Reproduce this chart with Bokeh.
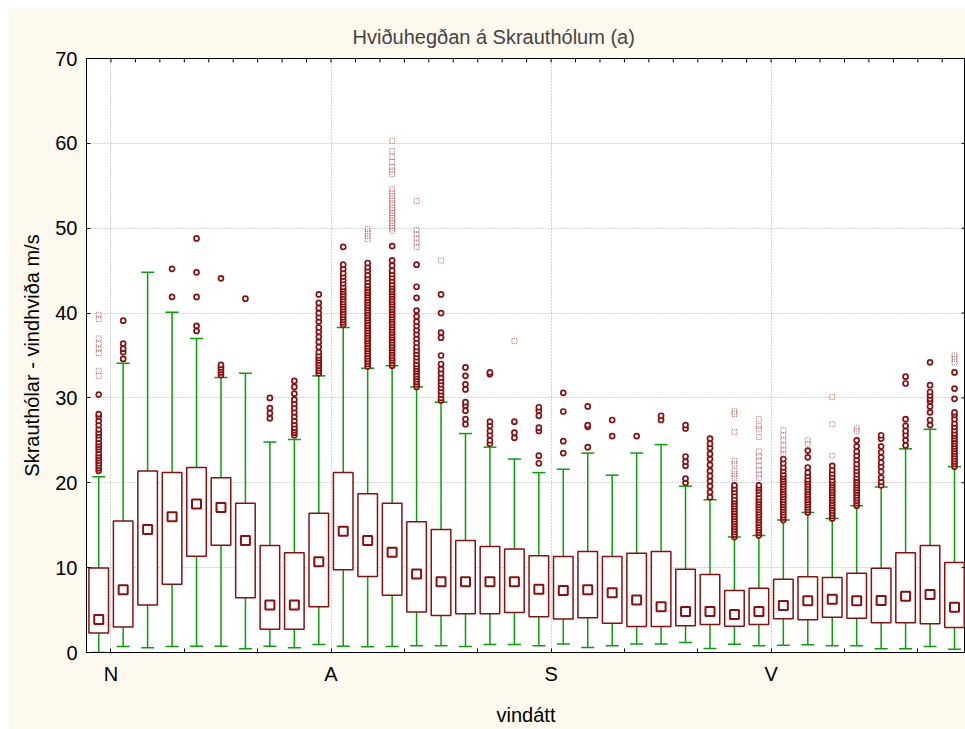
import math
from bokeh.plotting import figure
from bokeh.models import Range1d, FixedTicker, Spacer
from bokeh.layouts import column, row
from bokeh.embed import file_html
from bokeh.resources import INLINE

# ---- data (wind direction bins, degrees) ----
stefna = [-5, 5, 15, 25, 35, 45, 55, 65, 75, 85, 95, 105, 115, 125, 135, 145, 155, 165,
          175, 185, 195, 205, 215, 225, 235, 245, 255, 265, 275, 285, 295, 305, 315, 325, 335, 345]

midgildi = [3.9, 7.4, 14.5, 16.0, 17.5, 17.1, 13.2, 5.6, 5.6, 10.7, 14.3, 13.2, 11.8, 9.25, 8.35, 8.35, 8.35, 8.35,
            7.45, 7.3, 7.4, 7.05, 6.2, 5.4, 4.83, 4.83, 4.48, 4.83, 5.54, 6.09, 6.28, 6.09, 6.13, 6.64, 6.84, 5.34]
nedri_fjordungur = [2.3, 3.0, 5.6, 8.05, 11.35, 12.65, 6.45, 2.75, 2.75, 5.4, 9.74, 8.96, 6.76, 4.77, 4.36, 4.56, 4.56, 4.7,
                    4.2, 3.95, 4.1, 3.46, 3.05, 3.05, 3.14, 3.3, 3.1, 3.3, 3.97, 3.85, 4.16, 4.04, 3.5, 3.5, 3.4, 2.95]
efri_fjordungur = [9.95, 15.5, 21.4, 21.2, 21.8, 20.6, 17.6, 12.6, 11.75, 16.4, 21.2, 18.7, 17.6, 15.4, 14.5, 13.2, 12.5, 12.2,
                   11.4, 11.3, 11.9, 11.3, 11.7, 11.9, 9.8, 9.2, 7.3, 7.58, 8.64, 8.92, 8.84, 9.35, 9.94, 11.75, 12.6, 10.6]
laegst = [0.0, 0.7, 0.55, 0.7, 0.75, 0.75, 0.43, 0.75, 0.55, 0.94, 0.75, 0.67, 0.7, 0.8, 0.8, 0.7, 0.94, 0.94,
          0.8, 1.0, 0.6, 0.8, 1.0, 1.0, 1.18, 0.47, 0.98, 0.79, 0.86, 0.9, 0.79, 0.79, 0.43, 0.43, 0.71, 0.39]
haest = [20.7, 34.1, 44.8, 40.1, 37.0, 32.4, 32.9, 24.8, 25.1, 32.6, 38.3, 33.5, 33.8, 31.3, 29.5, 25.8, 24.2, 22.8,
         21.2, 21.6, 23.5, 20.9, 23.5, 24.5, 19.6, 18.0, 13.6, 13.8, 15.6, 16.5, 15.8, 17.3, 19.5, 24.0, 26.3, 21.9]

utlagar = [
    [21.4, 21.7, 22.0, 22.3, 22.6, 22.9, 23.2, 23.5, 23.9, 24.2, 24.5, 24.8, 25.2, 25.6, 25.9, 26.3, 26.8, 27.3, 27.8, 28.1, 30.4],
    [34.6, 35.4, 35.8, 36.4, 39.1],
    [],
    [41.9, 45.2],
    [37.9, 38.5, 41.9, 44.8, 48.8],
    [32.7, 33.0, 33.3, 33.6, 33.9, 44.1],
    [41.7],
    [27.6, 28.2, 28.8, 30.0],
    [25.6, 25.9, 26.2, 26.5, 26.9, 27.3, 27.8, 28.3, 28.8, 29.3, 29.8, 30.5, 31.3, 32.0],
    [32.9, 33.2, 33.5, 33.8, 34.1, 34.4, 34.7, 35.0, 35.4, 36.0, 36.6, 37.2, 37.8, 38.3, 39.0, 39.5, 40.0, 40.6, 41.2, 42.2],
    [38.6, 38.9, 39.2, 39.5, 39.8, 40.1, 40.4, 40.7, 41.0, 41.3, 41.6, 41.9, 42.2, 42.5, 42.8, 43.1, 43.5, 43.9, 44.3, 44.7,
     45.2, 45.7, 47.8],
    [33.7, 34.0, 34.3, 34.6, 34.9, 35.2, 35.5, 35.8, 36.1, 36.4, 36.7, 37.0, 37.3, 37.6, 37.9, 38.2, 38.5, 38.8, 39.1, 39.4,
     39.7, 40.0, 40.3, 40.6, 40.9, 41.2, 41.5, 41.8, 42.1, 42.4, 42.7, 43.0, 43.3, 43.7, 44.1, 44.5, 45.0, 45.4, 45.9],
    [33.8, 34.1, 34.4, 34.7, 35.0, 35.3, 35.6, 35.9, 36.2, 36.5, 36.8, 37.1, 37.4, 37.7, 38.0, 38.3, 38.6, 38.9, 39.2, 39.5,
     39.8, 40.1, 40.4, 40.7, 41.0, 41.3, 41.6, 41.9, 42.2, 42.5, 42.8, 43.1, 43.4, 43.8, 44.2, 44.6, 45.0, 45.6, 46.2, 47.9],
    [31.3, 31.6, 31.9, 32.2, 32.5, 32.8, 33.1, 33.4, 33.7, 34.0, 34.4, 34.8, 35.2, 35.6, 36.0, 36.5, 37.0, 37.5, 38.0, 38.5,
     39.0, 39.6, 40.3, 41.8, 43.1, 45.7],
    [29.7, 30.0, 30.4, 30.8, 31.2, 31.6, 32.0, 32.4, 32.9, 33.4, 34.0, 35.0, 37.1, 37.7, 40.0, 42.2],
    [26.9, 27.5, 28.5, 29.1, 29.5, 31.0, 31.6, 32.6, 33.6],
    [24.6, 25.0, 25.6, 26.1, 26.7, 27.2, 32.8, 33.0],
    [25.3, 25.9, 27.2],
    [22.3, 23.2, 26.1, 26.5, 27.9, 28.5, 28.9],
    [23.5, 24.9, 28.4, 30.6],
    [24.2, 26.6, 26.8, 29.0],
    [25.5, 27.4],
    [25.5],
    [27.4, 27.9],
    [20.0, 20.5, 22.0, 22.5, 23.1, 26.4, 26.8],
    [18.3, 18.9, 19.6, 20.2, 20.8, 21.4, 22.1, 22.8, 23.4, 24.1, 24.6, 25.2],
    [13.6, 13.9, 14.2, 14.5, 14.8, 15.1, 15.4, 15.7, 16.0, 16.3, 16.6, 16.9, 17.2, 17.5, 17.8, 18.1, 18.5, 18.9, 19.3, 19.7],
    [13.8, 14.1, 14.4, 14.7, 15.0, 15.3, 15.6, 15.9, 16.2, 16.5, 16.8, 17.1, 17.4, 17.7, 18.0, 18.3, 18.7, 19.1, 19.4, 19.7],
    [15.6, 15.9, 16.2, 16.5, 16.8, 17.1, 17.4, 17.7, 18.0, 18.3, 18.6, 18.9, 19.2, 19.5, 19.8, 20.1, 20.4, 20.7, 21.0, 21.4,
     21.8, 22.3, 22.8],
    [16.5, 16.8, 17.1, 17.4, 17.7, 18.0, 18.3, 18.6, 18.9, 19.2, 19.5, 19.8, 20.1, 20.4, 20.8, 21.2, 21.8, 23.0, 23.8],
    [15.8, 16.1, 16.4, 16.7, 17.0, 17.3, 17.6, 17.9, 18.2, 18.5, 18.8, 19.1, 19.4, 19.7, 20.0, 20.3, 20.7, 21.1, 21.5, 22.0],
    [17.3, 17.6, 17.9, 18.2, 18.5, 18.8, 19.1, 19.4, 19.7, 20.0, 20.3, 20.6, 21.0, 21.4, 21.8, 22.2, 22.7, 23.2, 23.7, 24.3, 25.0],
    [19.7, 20.1, 20.6, 21.3, 21.9, 22.4, 23.0, 23.6, 24.3, 25.2, 25.6],
    [24.4, 25.0, 25.6, 26.1, 26.7, 27.5, 31.7, 32.5],
    [26.8, 27.4, 28.3, 29.0, 29.6, 29.9, 30.3, 30.7, 31.5, 34.2],
    [21.9, 22.2, 22.5, 22.8, 23.1, 23.4, 23.7, 24.0, 24.3, 24.6, 24.9, 25.2, 25.5, 25.8, 26.2, 26.6, 27.0, 27.5, 28.0, 28.3,
     29.9, 31.1, 33.0],
]

oefgar = [
    [32.6, 33.2, 35.3, 35.8, 36.4, 37.0, 39.3, 39.8],
    [], [], [], [], [], [], [], [], [], [],
    [48.7, 49.1, 49.5, 49.9],
    [49.7, 50.0, 50.3, 50.6, 50.9, 51.2, 51.5, 51.8, 52.1, 52.4, 52.7, 53.0, 53.4, 53.8, 54.2, 54.6,
     56.4, 56.8, 57.2, 57.8, 58.4, 59.1, 60.3],
    [47.8, 48.3, 48.8, 49.3, 49.8, 53.2],
    [46.2],
    [], [],
    [36.7],
    [], [], [], [], [], [], [], [],
    [20.6, 21.0, 21.4, 22.2, 22.6, 26.0, 28.1, 28.4],
    [20.6, 21.0, 21.5, 22.0, 22.6, 23.1, 23.7, 25.4, 26.3, 26.7, 27.5],
    [23.4, 23.9, 24.4, 25.0, 25.6, 26.2],
    [24.6, 25.0],
    [23.2, 26.9, 30.1],
    [26.1, 26.4],
    [], [], [],
    [34.2, 34.6, 35.0],
]

attir = {0: "N", 90: "A", 180: "S", 270: "V"}
x_minor_ticks = [30, 60, 120, 150, 210, 240, 300, 330]
x_top_ticks = [0, 10, 20, 30, 40, 50, 60, 70, 80, 90, 100, 110, 120, 130, 140, 150, 160, 170,
               180, 190, 200, 210, 220, 230, 240, 250, 260, 270, 280, 290, 300, 310, 320, 330, 340]
y_ticks = [0, 10, 20, 30, 40, 50, 60, 70]

# ---- styling ----
FONT = "Liberation Sans"
RED = "#8b0f0f"
GREEN = "#08a008"
CREAM = "#fef9ee"

p = figure(width=957, height=721, output_backend="svg", toolbar_location=None,
           x_range=Range1d(-10, 349.5), y_range=Range1d(0, 70),
           min_border_left=78, min_border_right=0, min_border_top=50, min_border_bottom=77,
           background_fill_color="white", border_fill_color=CREAM,
           title="Hviðuhegðan á Skrauthólum (a)")
p.outline_line_color = "black"
p.outline_line_width = 1
p.title.align = "left"
p.title.offset = 266
p.title.text_font = FONT
p.title.text_font_size = "20px"
p.title.text_font_style = "normal"
p.title.standoff = 22

# grids
p.ygrid.ticker = FixedTicker(ticks=[10, 20, 30, 40, 50, 60])
p.xgrid.ticker = FixedTicker(ticks=list(attir.keys()))
for g in (p.xgrid, p.ygrid):
    g.grid_line_color = "#a8a8a8"
    g.grid_line_dash = "1 2"
    g.grid_line_width = 1

# bottom axis
xa = p.xaxis[0]
xa.ticker = FixedTicker(ticks=list(attir.keys()), minor_ticks=x_minor_ticks)
xa.major_label_overrides = attir
xa.axis_label = "vindátt"
# left axis
ya = p.yaxis[0]
ya.ticker = FixedTicker(ticks=y_ticks)
ya.axis_label = "Skrauthólar - vindhviða m/s"

for ax in (xa, ya):
    ax.major_tick_in = 4
    ax.major_tick_out = 0
    ax.minor_tick_in = 4
    ax.minor_tick_out = 0
    ax.minor_tick_line_color = "black"
    ax.axis_line_color = "black"
    ax.major_tick_line_color = "black"
    ax.major_label_text_font = FONT
    ax.major_label_text_font_size = "20px"
    ax.major_label_text_color = "black"
    ax.axis_label_text_font = FONT
    ax.axis_label_text_font_size = "20px"
    ax.axis_label_text_font_style = "normal"
    ax.axis_label_text_color = "black"
ya.minor_tick_line_color = None
xa.major_label_standoff = 10
xa.axis_label_standoff = 16
ya.major_label_standoff = 9
ya.axis_label_standoff = 9

# whiskers
p.segment(x0=stefna, y0=efri_fjordungur, x1=stefna, y1=haest, line_color=GREEN, line_width=1.5)
p.segment(x0=stefna, y0=laegst, x1=stefna, y1=nedri_fjordungur, line_color=GREEN, line_width=1.5)
p.scatter(x=stefna, y=haest, marker="dash", size=13, line_color=GREEN, line_width=1.5)
p.scatter(x=stefna, y=laegst, marker="dash", size=13, line_color=GREEN, line_width=1.5)

# boxes
p.vbar(x=stefna, width=8, top=efri_fjordungur, bottom=nedri_fjordungur,
       fill_color="white", line_color=RED, line_width=1.5)
# medians
p.scatter(x=stefna, y=midgildi, marker="square", size=9, fill_color="white",
          line_color=RED, line_width=2)

# outliers
ox, oy = [], []
for d, vals in zip(stefna, utlagar):
    ox += [d] * len(vals)
    oy += vals
p.scatter(x=ox, y=oy, marker="circle", size=5, fill_color="white", line_color=RED, line_width=1.7)

# extremes
ex, ey = [], []
for d, vals in zip(stefna, oefgar):
    ex += [d] * len(vals)
    ey += vals
p.scatter(x=ex, y=ey, marker="square", size=5, fill_color=None, line_color="#b04444",
          line_width=1, line_dash="1 1", line_alpha=0.8)

# inward ticks on the top and right frame edges (half of each mark is clipped by the frame)
p.scatter(x=x_top_ticks, y=[p.y_range.end] * len(x_top_ticks), marker="dash", angle=math.pi / 2,
          size=8, line_color="black", line_width=1)
p.scatter(x=[p.x_range.end] * len(y_ticks), y=y_ticks, marker="dash",
          size=8, line_color="black", line_width=1)

layout = column(Spacer(height=8), row(Spacer(width=8), p))
open("out.html", "w").write(file_html(layout, INLINE))
